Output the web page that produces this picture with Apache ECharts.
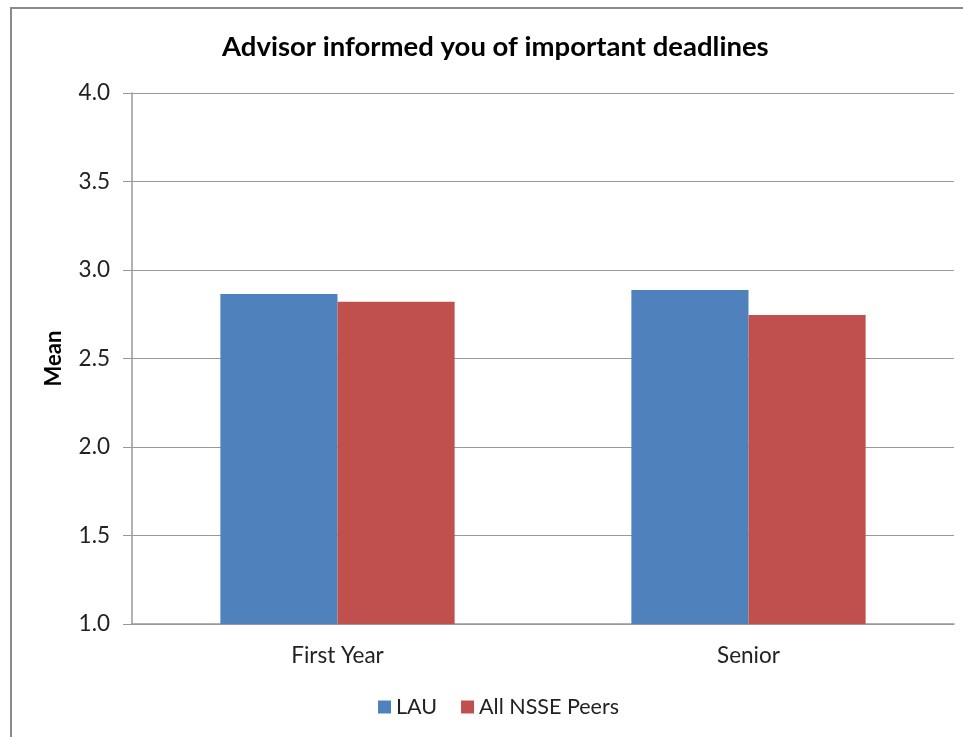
<!DOCTYPE html>
<html>
<head>
<meta charset="utf-8">
<script src="https://cdn.jsdelivr.net/npm/echarts@6/dist/echarts.min.js"></script>
<style>
  html, body { margin: 0; padding: 0; background: #fff; }
  #main { width: 963px; height: 737px; }
</style>
</head>
<body>
<div id="main"></div>
<script>
var categories = ['First Year', 'Senior'];
var lauValues = [2.865, 2.887];
var peerValues = [2.82, 2.746];
var yTicks = [1.0, 1.5, 2.0, 2.5, 3.0, 3.5, 4.0];

var font = 'Lato, "Open Sans", sans-serif';
var chart = echarts.init(document.getElementById('main'));

chart.setOption({
    backgroundColor: '#fff',
    animation: false,
    textStyle: { fontFamily: font },
    title: {
        text: 'Advisor informed you of important deadlines',
        left: 217,
        top: 28,
        textStyle: { fontSize: 27.5, fontWeight: 'bold', color: '#000', fontFamily: font }
    },
    graphic: [{
        type: 'rect',
        shape: { x: 11, y: 8, width: 980, height: 760 },
        style: { fill: 'none', stroke: '#8a8a8a', lineWidth: 2 },
        silent: true
    }],
    legend: {
        data: ['LAU', 'All NSSE Peers'],
        bottom: 14,
        left: 373,
        itemWidth: 13,
        itemHeight: 13,
        itemGap: 24,
        icon: 'rect',
        textStyle: { fontSize: 21.5, color: '#222', fontFamily: font }
    },
    grid: { left: 132, right: 9, top: 93, bottom: 113 },
    xAxis: {
        type: 'category',
        data: categories,
        axisLine: { lineStyle: { color: '#999', width: 1.5 } },
        axisTick: { show: false },
        axisLabel: { fontSize: 22.5, color: '#222', margin: 20 }
    },
    yAxis: {
        type: 'value',
        min: yTicks[0],
        max: yTicks[yTicks.length - 1],
        interval: 0.5,
        name: 'Mean',
        nameLocation: 'middle',
        nameGap: 67,
        nameTextStyle: { fontSize: 22, fontWeight: 'bold', color: '#000' },
        axisLine: { show: true, lineStyle: { color: '#999', width: 1.5 } },
        axisTick: { show: true, inside: false, length: 9, lineStyle: { color: '#999' } },
        axisLabel: {
            fontSize: 22.5, color: '#222', margin: 22,
            formatter: function (v) { return v.toFixed(1); }
        },
        splitLine: { lineStyle: { color: '#999', width: 1 } }
    },
    series: [{
        name: 'LAU',
        type: 'bar',
        data: lauValues,
        barGap: '0%',
        barCategoryGap: '43%',
        itemStyle: { color: '#4f81bd' }
    }, {
        name: 'All NSSE Peers',
        type: 'bar',
        data: peerValues,
        barGap: '0%',
        barCategoryGap: '43%',
        itemStyle: { color: '#c0504d' }
    }]
});
</script>
</body>
</html>
